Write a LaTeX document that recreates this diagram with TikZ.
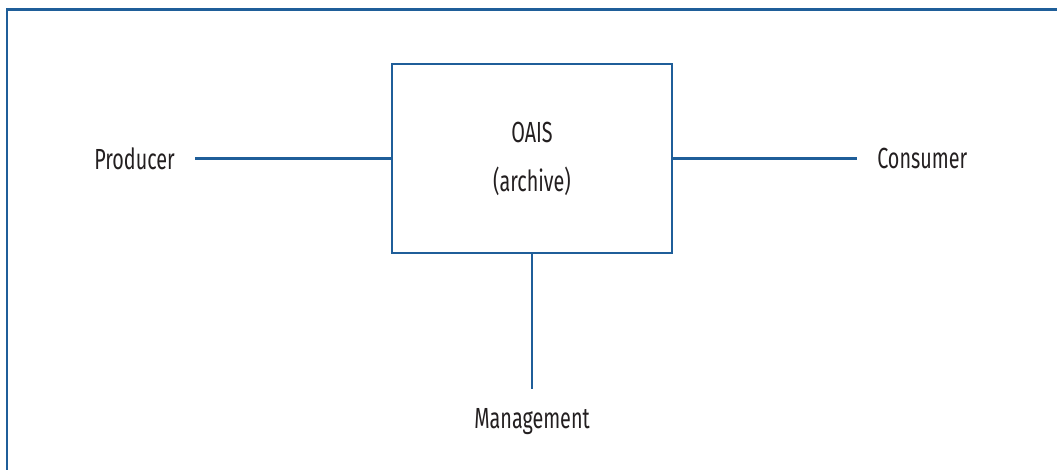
\documentclass[tikz,border=0pt]{standalone}
\usepackage{fontspec}
\setmainfont{Fira Sans}[FakeStretch=0.68]
\usepackage{tikz}
\usetikzlibrary{positioning}
\definecolor{oaisblue}{HTML}{1F5E99}
\definecolor{oaistext}{HTML}{231F20}
\begin{document}
\begin{tikzpicture}[x=0.75pt,y=-0.75pt,
archive/.style={draw=oaisblue,line width=1.6pt,minimum width=210pt,minimum height=141.75pt,align=center,text=oaistext,font=\fontsize{21.8}{36.75}\selectfont},
lab/.style={text=oaistext,inner sep=15pt,font=\fontsize{21.8}{26}\selectfont},
link/.style={draw=oaisblue,line width=1.6pt}]
\useasboundingbox (0,0) rectangle (1057,470);
\draw[link] (7,470) -- (7,9.5) -- (1057,9.5);
\node[archive] (oais) at (532,158.5) {OAIS\\(archive)};
\node[lab,anchor=east] (producer) at (195,158.5) {Producer};
\node[lab,anchor=west] (consumer) at (857,158.5) {Consumer};
\node[lab] (management) at (532,422) {Management};
\draw[link] (producer.east) -- (oais.west);
\draw[link] (oais.east) -- (consumer.west);
\draw[link] (oais.south) -- (management.north);
\end{tikzpicture}
\end{document}
